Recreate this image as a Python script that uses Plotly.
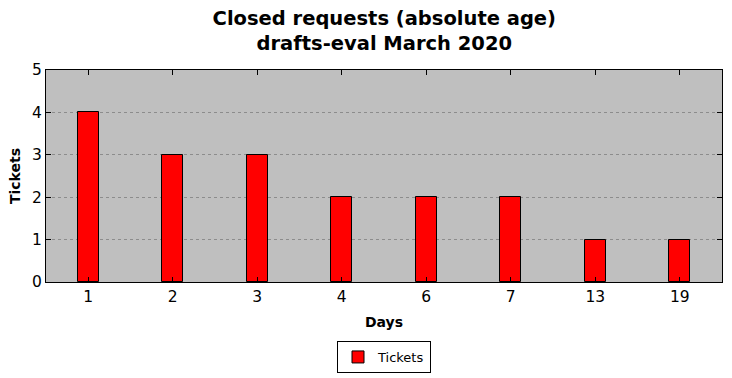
import plotly.graph_objects as go

days = ["1", "2", "3", "4", "6", "7", "13", "19"]
tickets = [4, 3, 3, 2, 2, 2, 1, 1]

W, H = 732, 378
L, R, T, B = 46, 10, 70, 96

fig = go.Figure()
fig.add_trace(go.Bar(
    x=days, y=tickets, name="Tickets",
    marker=dict(color="#ff0000", line=dict(color="black", width=1)),
    width=0.25,
))

font = "DejaVu Sans, sans-serif"
fig.update_layout(
    width=W, height=H,
    margin=dict(l=L, r=R, t=T, b=B, autoexpand=False),
    paper_bgcolor="white",
    plot_bgcolor="#bfbfbf",
    font=dict(family=font, color="black"),
    title=dict(
        text="<b>Closed requests (absolute age)<br>drafts-eval March 2020</b>",
        x=0.525, xanchor="center", y=0.935, yanchor="top",
        font=dict(size=19.5, family=font, color="black"),
    ),
    showlegend=True,
    legend=dict(
        orientation="h", x=0.5, xanchor="center",
        yref="container", y=1 - 341 / H, yanchor="top",
        bordercolor="black", borderwidth=1, bgcolor="white",
        font=dict(size=13, family=font),
    ),
    bargap=0,
)
fig.update_xaxes(
    type="category", range=[-0.5, 7.5], automargin=False,
    showline=True, linecolor="black", linewidth=1, mirror="ticks",
    ticks="inside", ticklen=5, tickcolor="black",
    tickfont=dict(size=15.5, family=font),
    showgrid=False,
    title=dict(text="<b>Days</b>", font=dict(size=14, family=font), standoff=12),
)
fig.update_yaxes(
    range=[0, 5], dtick=1, automargin=False,
    showline=True, linecolor="black", linewidth=1, mirror="ticks",
    ticks="inside", ticklen=5, tickcolor="black",
    tickfont=dict(size=15.5, family=font),
    showgrid=True, gridcolor="#8c8c8c", griddash="dot", gridwidth=1,
    zeroline=False,
    title=dict(text="<b>Tickets</b>", font=dict(size=14, family=font), standoff=8),
)
fig.write_html("out.html")
